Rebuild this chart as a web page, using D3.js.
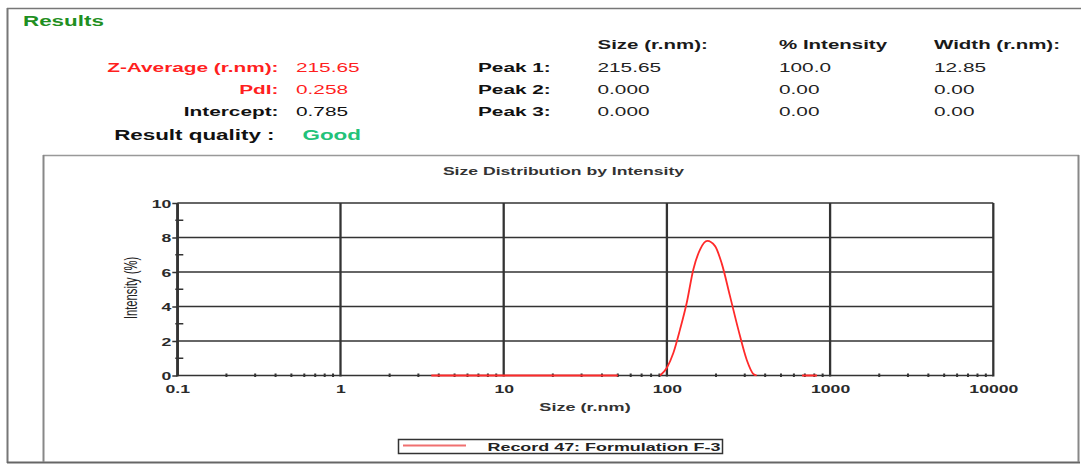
<!DOCTYPE html>
<html>
<head>
<meta charset="utf-8">
<script src="https://cdn.jsdelivr.net/npm/d3@7"></script>
<style>
  html, body { margin: 0; padding: 0; background: #fff; }
  svg { display: block; }
  text { font-family: "Liberation Sans", Arial, Helvetica, sans-serif; }
</style>
</head>
<body>
<svg id="chart" width="1081" height="469"></svg>
<script>
// ---------- DATA ----------
const resultLabels = ["Z-Average (r.nm):", "PdI:", "Intercept:"];
const resultValues = ["215.65", "0.258", "0.785"];
const resultQualityLabel = "Result quality :";
const resultQuality = "Good";

const peakLabels = ["Peak 1:", "Peak 2:", "Peak 3:"];
const peakColumns = ["Size (r.nm):", "% Intensity", "Width (r.nm):"];
const peakSize = ["215.65", "0.000", "0.000"];
const peakIntensity = ["100.0", "0.00", "0.00"];
const peakWidth = ["12.85", "0.00", "0.00"];

// size distribution (r.nm) and intensity (%); null marks a gap in the record line
const sizes =     [3.6, 50.1, 60, 90.8, 100, 109.5, 120.3, 132.2, 145.2, 159.6, 176.9, 197.3, 216.7, 243.6, 274.0, 308.6, 338.0, 355.0, 500, 673, 831];
const intensity = [0,   0,    null, 0,  0.45, 1.3,  2.66,  4.2,   6.15,  7.3,   7.8,   7.5,   6.5,   4.6,   2.66,  0.9,   0.1,   0,     null, 0,  0];

const xTicks = [0.1, 1, 10, 100, 1000, 10000];
const xTickLabels = ["0.1", "1", "10", "100", "1000", "10000"];
const yTicks = [0, 2, 4, 6, 8, 10];
const yMinorTicks = [1, 3, 5, 7, 9];
const chartTitle = "Size Distribution by Intensity";
const xTitle = "Size (r.nm)";
const yTitle = "Intensity (%)";
const legendLabel = "Record 47: Formulation F-3";

// ---------- LAYOUT ----------
const SX = 1.6; // horizontal stretch of glyphs in the reference
const svg = d3.select("#chart");
const FONT = '"Liberation Sans", Arial, Helvetica, sans-serif';

function txt(x, y, s, o = {}) {
  return svg.append("text")
    .attr("transform", `translate(${x},${y}) scale(${SX},1)`)
    .attr("text-anchor", o.anchor || "start")
    .attr("font-size", o.size || 13)
    .attr("font-weight", o.weight || "normal")
    .attr("fill", o.fill || "#111")
    .text(s);
}

// frames
const frame = svg.append("g").attr("fill", "none");
frame.append("line").attr("x1", 7).attr("x2", 1081).attr("y1", 8.5).attr("y2", 8.5).attr("stroke", "#777").attr("stroke-width", 1.5);
frame.append("line").attr("x1", 7.5).attr("x2", 7.5).attr("y1", 8).attr("y2", 463).attr("stroke", "#777").attr("stroke-width", 2);
frame.append("line").attr("x1", 7).attr("x2", 1080).attr("y1", 462.5).attr("y2", 462.5).attr("stroke", "#666").attr("stroke-width", 1.8);
frame.append("line").attr("x1", 43).attr("x2", 1079).attr("y1", 155.5).attr("y2", 155.5).attr("stroke", "#999").attr("stroke-width", 1.3);
frame.append("line").attr("x1", 43.5).attr("x2", 43.5).attr("y1", 155).attr("y2", 462).attr("stroke", "#888").attr("stroke-width", 2);
frame.append("line").attr("x1", 1078.5).attr("x2", 1078.5).attr("y1", 155).attr("y2", 462).attr("stroke", "#888").attr("stroke-width", 2);

// header
txt(23, 26, "Results", {size: 14, weight: "bold", fill: "#1f8f22"});
const rowY = [72, 94, 116];
const redC = "#ff1f1f";
resultLabels.forEach((l, i) => {
  const c = i < 2 ? redC : "#111";
  txt(278.5, rowY[i], l, {anchor: "end", weight: "bold", fill: c});
  txt(296, rowY[i], resultValues[i], {fill: c});
});
txt(274.5, 140, resultQualityLabel, {anchor: "end", size: 14, weight: "bold"});
txt(302.5, 140, resultQuality, {size: 14, weight: "bold", fill: "#22c279"});

const colX = [597.5, 779, 934];
peakColumns.forEach((c, j) => txt(colX[j], 48.5, c, {weight: "bold", size: 12.8, fill: "#1a1a1a"}));
peakLabels.forEach((p, i) => {
  txt(478, rowY[i], p, {weight: "bold"});
  txt(colX[0], rowY[i], peakSize[i], {fill: "#222"});
  txt(colX[1], rowY[i], peakIntensity[i], {fill: "#222"});
  txt(colX[2], rowY[i], peakWidth[i], {fill: "#222"});
});

// ---------- CHART ----------
const x = d3.scaleLog().domain([0.1, 10000]).range([177.3, 993.3]);
const y = d3.scaleLinear().domain([0, 10]).range([375.5, 203]);
const gridC = "#333";

// title
txt(563.5, 175, chartTitle, {anchor: "middle", size: 11, weight: "bold", fill: "#333"});

// gridlines
const grid = svg.append("g");
grid.selectAll("line.h").data(yTicks).join("line").attr("class", "h")
  .attr("x1", x(0.1)).attr("x2", x(10000))
  .attr("y1", d => y(d)).attr("y2", d => y(d))
  .attr("stroke", gridC).attr("stroke-width", 1.5);
grid.selectAll("line.v").data(xTicks).join("line").attr("class", "v")
  .attr("x1", d => x(d)).attr("x2", d => x(d))
  .attr("y1", y(10)).attr("y2", y(0) + 1)
  .attr("stroke", gridC).attr("stroke-width", 2.3);

// minor ticks
const xMinor = [];
for (let e = -1; e < 4; e++) for (let k = 2; k <= 9; k++) xMinor.push(k * Math.pow(10, e));
grid.selectAll("line.xm").data(xMinor).join("line").attr("class", "xm")
  .attr("x1", d => x(d)).attr("x2", d => x(d))
  .attr("y1", y(0) - 2).attr("y2", y(0) + 1.5)
  .attr("stroke", gridC).attr("stroke-width", 2);
grid.selectAll("line.ym").data(yMinorTicks).join("line").attr("class", "ym")
  .attr("x1", x(0.1) - 2).attr("x2", x(0.1) + 6)
  .attr("y1", d => y(d)).attr("y2", d => y(d))
  .attr("stroke", gridC).attr("stroke-width", 1.5);

// y axis
const yAxis = svg.append("g").attr("transform", `translate(${x(0.1)},0)`)
  .call(d3.axisLeft(y).tickValues(yTicks).tickSize(5).tickSizeOuter(0).tickFormat(d3.format("d")));
yAxis.select(".domain").attr("stroke", gridC).attr("stroke-width", 2.3);
yAxis.selectAll(".tick line").attr("stroke", gridC).attr("stroke-width", 1.5);
yAxis.selectAll(".tick text")
  .attr("x", null).attr("dy", null).attr("y", 4)
  .attr("transform", `translate(-6,0) scale(${SX},1)`)
  .attr("font-family", FONT).attr("font-size", 11).attr("font-weight", "bold").attr("fill", "#2a2a2a");

// x axis
const xAxis = svg.append("g").attr("transform", `translate(0,${y(0)})`)
  .call(d3.axisBottom(x).tickValues(xTicks).tickSize(0).tickSizeOuter(0).tickFormat((d, i) => xTickLabels[i]));
xAxis.select(".domain").remove();
xAxis.selectAll(".tick text")
  .attr("dy", null).attr("y", 0)
  .attr("transform", `translate(0,17.5) scale(${SX},1)`)
  .attr("font-family", FONT).attr("font-size", 11).attr("font-weight", "bold").attr("fill", "#2a2a2a");

// axis titles
txt(585, 410.5, xTitle, {anchor: "middle", size: 11.3, weight: "bold", fill: "#333"});
svg.append("text")
  .attr("transform", `translate(136.5,288) scale(${SX},1) rotate(-90)`)
  .attr("text-anchor", "middle").attr("font-size", 11.2).attr("fill", "#222")
  .text(yTitle);

// record line
const pts = sizes.map((s, i) => ({s, v: intensity[i]}));
const line = d3.line().defined(d => d.v !== null).x(d => x(d.s)).y(d => y(d.v)).curve(d3.curveMonotoneX);
svg.append("path").datum(pts).attr("d", line)
  .attr("fill", "none").attr("stroke", "#ff2a2a").attr("stroke-width", 1.8).attr("stroke-linejoin", "round");

// legend
const lg = svg.append("g");
lg.append("rect").attr("x", 398.5).attr("y", 439.5).attr("width", 324).attr("height", 14)
  .attr("fill", "#fff").attr("stroke", "#333").attr("stroke-width", 1.5);
lg.append("line").attr("x1", 403).attr("x2", 466).attr("y1", 445.5).attr("y2", 445.5)
  .attr("stroke", "#f07070").attr("stroke-width", 1.8);
txt(487.5, 450.8, legendLabel, {size: 11.2, weight: "bold", fill: "#222"});
</script>
</body>
</html>
